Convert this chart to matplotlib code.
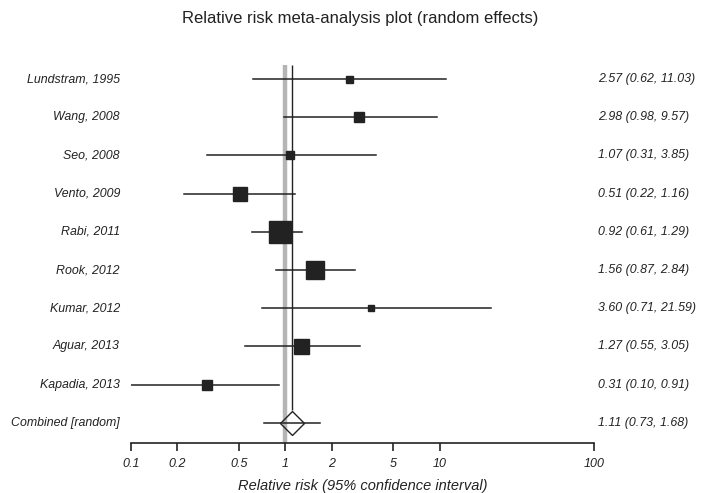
import numpy as np
import matplotlib
matplotlib.use("Agg")
import matplotlib.pyplot as plt

studies = ["Lundstram, 1995", "Wang, 2008", "Seo, 2008", "Vento, 2009", "Rabi, 2011",
           "Rook, 2012", "Kumar, 2012", "Aguar, 2013", "Kapadia, 2013"]
rr = [2.57, 2.98, 1.07, 0.51, 0.92, 1.56, 3.60, 1.27, 0.31]
lo = [0.62, 0.98, 0.31, 0.22, 0.61, 0.87, 0.71, 0.55, 0.10]
hi = [11.03, 9.57, 3.85, 1.16, 1.29, 2.84, 21.59, 3.05, 0.91]
# relative study weight
weight = [7, 10, 8, 14, 23, 18, 6, 15, 10]

pooled_label = "Combined [random]"
pooled = 1.11
pooled_lo = 0.73
pooled_hi = 1.68

ticks = [0.1, 0.2, 0.5, 1, 2, 5, 10, 100]
tick_labels = ["0.1", "0.2", "0.5", "1", "2", "5", "10", "100"]

plt.rcParams['font.family'] = ['Liberation Sans', 'DejaVu Sans']
ink = "#222222"
fs = 8.9

fig = plt.figure(figsize=(7.02, 4.93), dpi=100)
ax = fig.add_axes([131 / 702, 50 / 493, 463 / 702, 383 / 493])
ax.set_xscale("log")
ax.set_xlim(0.1, 100)
ax.set_ylim(-9.53, 0.5)

n = len(studies)
ys = -np.arange(n)
y_pool = -n

# reference line at no effect and line at the pooled estimate
ax.vlines(1, y_pool - 0.53, 0.37, color="#b5b5b5", lw=3.2, zorder=1)
ax.vlines(pooled, y_pool + 0.34, 0.37, color=ink, lw=1.0, zorder=2)

for i in range(n):
    ax.plot([lo[i], hi[i]], [ys[i], ys[i]], color=ink, lw=1.1, zorder=3)
    ax.plot(rr[i], ys[i], marker="s", ms=weight[i] * 0.72, color=ink,
            mec=ink, zorder=4)
    ax.text(-0.024, ys[i], studies[i], transform=ax.get_yaxis_transform(),
            ha="right", va="center", style="italic", fontsize=fs, color=ink)
    ax.text(1.0086, ys[i], "%.2f (%.2f, %.2f)" % (rr[i], lo[i], hi[i]),
            transform=ax.get_yaxis_transform(), ha="left", va="center",
            style="italic", fontsize=fs, color=ink)

ax.plot([pooled_lo, pooled_hi], [y_pool, y_pool], color=ink, lw=1.1, zorder=3)
ax.plot(pooled, y_pool, marker="D", ms=12.7, mfc="none", mec=ink, mew=1.0, zorder=4)
ax.text(-0.024, y_pool, pooled_label, transform=ax.get_yaxis_transform(),
        ha="right", va="center", style="italic", fontsize=fs, color=ink)
ax.text(1.0086, y_pool, "%.2f (%.2f, %.2f)" % (pooled, pooled_lo, pooled_hi),
        transform=ax.get_yaxis_transform(), ha="left", va="center",
        style="italic", fontsize=fs, color=ink)

for s in ["left", "right", "top"]:
    ax.spines[s].set_visible(False)
ax.spines["bottom"].set_color(ink)
ax.spines["bottom"].set_linewidth(1.2)
ax.set_yticks([])
ax.set_xticks(ticks)
ax.set_xticklabels(tick_labels, style="italic", fontsize=9, color=ink)
ax.minorticks_off()
ax.tick_params(axis="x", direction="out", length=6, width=1.2, color=ink, pad=5)

ax.set_xlabel("Relative risk (95% confidence interval)", style="italic",
              fontsize=10.5, color=ink, labelpad=6)
fig.text(0.513, 1 - 18 / 493, "Relative risk meta-analysis plot (random effects)",
         ha="center", va="center", fontsize=12, color=ink)

fig.savefig("out.png", dpi=100)
